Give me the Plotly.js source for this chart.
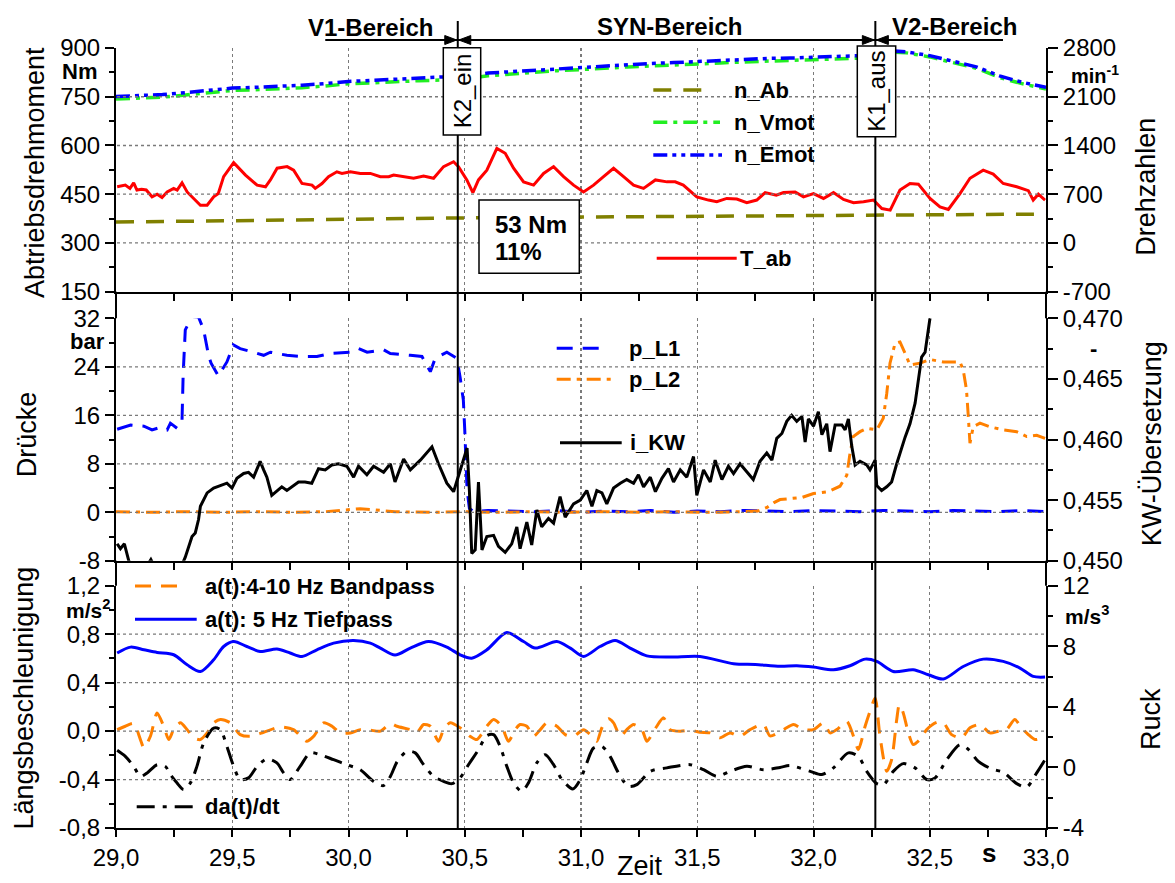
<!DOCTYPE html>
<html><head><meta charset="utf-8">
<script src="https://cdn.plot.ly/plotly-3.0.1.min.js"></script>
<style>html,body{margin:0;padding:0;background:#fff}#chart{width:1175px;height:883px}</style>
</head><body><div id="chart"></div>
<script>
// ---------------- DATA ----------------
const tTorque = [29.005,29.04,29.06,29.076,29.09,29.11,29.13,29.155,29.177,29.198,29.22,29.248,29.263,29.284,29.306,29.334,29.363,29.392,29.42,29.44,29.463,29.506,29.557,29.607,29.643,29.664,29.693,29.736,29.764,29.8,29.843,29.857,29.886,29.914,29.95,29.972,30.008,30.051,30.094,30.137,30.173,30.194,30.237,30.28,30.323,30.366,30.409,30.452,30.473,30.509,30.535,30.559,30.595,30.638,30.674,30.71,30.753,30.796,30.839,30.882,30.925,30.968,31.011,31.054,31.097,31.14,31.183,31.226,31.269,31.32,31.37,31.405,31.44,31.498,31.548,31.584,31.627,31.67,31.713,31.756,31.792,31.84,31.871,31.921,31.957,32.0,32.043,32.086,32.129,32.172,32.215,32.258,32.294,32.33,32.372,32.415,32.451,32.501,32.544,32.58,32.63,32.673,32.73,32.773,32.816,32.874,32.924,32.945,32.967,32.996];
const torqueAb = [473,478,468,485,463,465,463,442,450,440,457,468,463,485,457,437,416,416,442,452,504,547,509,478,473,494,530,535,524,483,478,468,483,504,519,514,519,514,514,504,504,509,504,499,506,499,535,550,535,494,455,494,524,591,576,530,488,478,514,535,504,478,457,478,504,530,504,478,468,494,488,488,478,442,432,427,437,435,424,432,455,447,455,457,442,452,437,455,434,424,427,432,406,401,463,483,481,437,411,403,452,499,524,512,483,473,461,432,450,432];

const tAb = [29.0,29.5,30.0,30.5,31.0,31.5,32.0,32.5,33.0];
const nAb = [300,322,345,360,372,385,395,405,415];

const tSpeed = [29.0,29.1,29.2,29.3,29.4,29.5,29.6,29.7,29.8,29.9,30.0,30.1,30.2,30.3,30.4,30.5,30.6,30.7,30.8,30.9,31.0,31.1,31.2,31.3,31.4,31.5,31.6,31.7,31.8,31.9,32.0,32.1,32.2,32.3,32.35,32.4,32.5,32.6,32.7,32.8,32.9,33.0];
const nVmot = [2066,2078,2095,2125,2160,2190,2200,2213,2230,2255,2286,2300,2318,2330,2340,2355,2400,2428,2455,2475,2490,2512,2528,2542,2553,2563,2585,2600,2612,2620,2630,2642,2655,2700,2740,2730,2672,2590,2510,2375,2285,2210];
const nEmot = [2103,2115,2132,2160,2195,2224,2236,2248,2265,2290,2319,2335,2352,2368,2382,2400,2440,2460,2485,2500,2515,2545,2562,2578,2590,2605,2625,2638,2650,2656,2665,2679,2690,2725,2755,2745,2690,2610,2530,2400,2305,2235];

const tPL1 = [29.005,29.063,29.12,29.155,29.19,29.22,29.234,29.263,29.284,29.289,29.298,29.327,29.355,29.377,29.399,29.409,29.44,29.477,29.505,29.534,29.592,29.635,29.664,29.735,29.793,29.864,29.921,30.008,30.043,30.08,30.151,30.18,30.266,30.316,30.352,30.373,30.423,30.466,30.48,30.494,30.5,30.505,30.51,30.52,30.538,30.6,30.7,30.8,30.9,31.0,31.1,31.2,31.3,31.4,31.5,31.6,31.7,31.8,31.9,32.0,32.1,32.2,32.3,32.4,32.5,32.6,32.7,32.8,32.9,33.0];
const pL1 = [13.7,14.4,14.2,13.6,14.0,13.6,14.7,13.85,15.2,22.9,30.1,32.3,32.2,30.1,25.7,24.6,22.5,24.8,27.6,27.0,26.4,25.9,26.4,25.9,25.7,25.7,26.2,26.4,27.0,26.4,26.8,26.2,25.9,25.7,23.2,25.4,26.4,25.4,22.3,18.5,13.6,9.2,3.7,0.65,0.1,0.3,0.2,0.1,0.3,0.0,0.2,0.1,0.3,0.0,0.2,0.1,0.3,0.2,0.1,0.3,0.2,0.1,0.3,0.2,0.1,0.3,0.2,0.1,0.3,0.1];

const tPL2 = [29.0,29.15,29.3,29.45,29.6,29.75,29.9,30.05,30.2,30.35,30.5,30.65,30.8,30.95,31.1,31.25,31.4,31.55,31.7,31.76,31.8,31.83,31.856,31.9,31.95,32.0,32.064,32.114,32.143,32.157,32.171,32.2,32.23,32.272,32.3,32.315,32.329,32.351,32.372,32.394,32.415,32.458,32.501,32.559,32.63,32.644,32.658,32.665,32.673,32.687,32.716,32.759,32.816,32.874,32.917,32.96,32.996];
const pL2 = [0.1,0.0,0.1,0.0,0.1,0.0,0.1,0.6,0.1,0.0,0.1,0.0,0.1,0.0,0.1,0.0,0.1,0.0,0.1,0.2,0.8,1.6,2.1,2.3,2.45,3.1,3.4,4.3,6.1,9.7,12.5,13.3,13.85,13.6,15.5,19.6,24.6,27.9,28.1,26.2,24.3,24.6,25.2,24.8,24.8,23.5,20.2,16.3,11.4,14.1,14.7,14.1,13.6,13.3,12.5,12.7,12.2];

const tKW = [29.005,29.019,29.036,29.055,29.08,29.12,29.15,29.18,29.24,29.28,29.298,29.312,29.327,29.341,29.355,29.363,29.377,29.392,29.42,29.449,29.477,29.499,29.52,29.549,29.57,29.592,29.606,29.62,29.635,29.649,29.67,29.692,29.713,29.735,29.763,29.785,29.813,29.842,29.871,29.9,29.928,29.957,29.993,30.022,30.043,30.079,30.108,30.151,30.18,30.2,30.237,30.266,30.309,30.359,30.387,30.423,30.452,30.48,30.51,30.52,30.53,30.545,30.559,30.574,30.595,30.624,30.645,30.674,30.702,30.724,30.738,30.767,30.788,30.81,30.831,30.86,30.882,30.91,30.932,30.968,30.997,31.025,31.047,31.068,31.09,31.111,31.14,31.169,31.197,31.226,31.247,31.269,31.298,31.32,31.348,31.376,31.398,31.427,31.455,31.484,31.498,31.527,31.556,31.577,31.606,31.634,31.656,31.684,31.713,31.741,31.77,31.799,31.821,31.842,31.864,31.885,31.906,31.928,31.95,31.964,31.978,32.0,32.021,32.036,32.057,32.071,32.093,32.122,32.136,32.15,32.165,32.179,32.2,32.229,32.243,32.265,32.272,32.293,32.315,32.336,32.358,32.379,32.394,32.415,32.437,32.451,32.465,32.48,32.501];
const iKW = [0.4514,0.4510,0.4514,0.4500,0.4488,0.4492,0.4501,0.4490,0.4485,0.4495,0.4503,0.4512,0.4520,0.4523,0.4534,0.4545,0.4551,0.4556,0.4560,0.4562,0.4564,0.4560,0.4568,0.4572,0.4573,0.4569,0.4576,0.4582,0.4575,0.4569,0.4554,0.4558,0.4561,0.4558,0.4562,0.4565,0.4565,0.4564,0.4576,0.4575,0.4579,0.4580,0.4578,0.4569,0.4578,0.4571,0.4578,0.4573,0.4580,0.4565,0.4584,0.4575,0.4583,0.4594,0.4580,0.4564,0.4557,0.4575,0.4593,0.4558,0.4506,0.4509,0.4565,0.4509,0.4520,0.4521,0.4512,0.4507,0.4514,0.4528,0.4510,0.4532,0.4513,0.4542,0.4528,0.4535,0.4531,0.4553,0.4536,0.4547,0.4550,0.4558,0.4545,0.4558,0.4556,0.4547,0.4560,0.4564,0.4567,0.4564,0.4571,0.4561,0.4569,0.4557,0.4568,0.4576,0.4565,0.4575,0.4569,0.4586,0.4554,0.4575,0.4565,0.4583,0.4567,0.4578,0.4572,0.4580,0.4573,0.4567,0.4582,0.4589,0.4583,0.4601,0.4605,0.4615,0.4620,0.4615,0.4619,0.4598,0.4617,0.4611,0.4623,0.4604,0.4613,0.4590,0.4612,0.4612,0.4608,0.4617,0.4594,0.4579,0.4582,0.4579,0.4575,0.4583,0.4562,0.4558,0.4561,0.4565,0.4580,0.4594,0.4602,0.4613,0.4630,0.4649,0.4668,0.4672,0.4700];

const tBand = [29.005,29.04,29.076,29.105,29.12,29.148,29.177,29.205,29.227,29.248,29.277,29.306,29.334,29.363,29.392,29.42,29.449,29.492,29.534,29.577,29.635,29.706,29.763,29.82,29.85,29.893,29.929,29.964,30.008,30.051,30.094,30.137,30.18,30.208,30.266,30.295,30.323,30.352,30.387,30.409,30.437,30.48,30.523,30.552,30.595,30.624,30.659,30.688,30.717,30.738,30.767,30.796,30.825,30.853,30.896,30.932,30.968,31.011,31.04,31.068,31.09,31.118,31.14,31.169,31.197,31.226,31.262,31.283,31.305,31.326,31.355,31.383,31.427,31.47,31.512,31.556,31.598,31.641,31.684,31.727,31.785,31.813,31.871,31.914,31.957,32.0,32.043,32.071,32.1,32.143,32.172,32.193,32.222,32.243,32.265,32.286,32.315,32.336,32.358,32.369,32.386,32.408,32.429,32.458,32.487,32.53,32.559,32.594,32.637,32.673,32.716,32.759,32.795,32.83,32.866,32.895,32.924,32.953,32.982];
const aBand = [0.012,0.04,0.062,-0.07,-0.138,-0.043,0.150,0.04,-0.07,0.012,0.068,0.012,-0.056,-0.07,-0.015,0.068,0.095,0.068,-0.029,-0.043,-0.010,0.034,0.012,-0.084,-0.043,0.068,0.04,-0.015,-0.015,0.012,0.007,0.0,0.062,0.04,0.012,-0.010,0.054,0.04,-0.084,0.012,0.068,0.027,-0.043,-0.07,0.04,0.095,0.04,-0.084,0.012,0.054,0.04,-0.043,0.012,0.068,0.04,-0.029,-0.043,0.012,-0.029,-0.084,0.027,0.101,0.068,-0.043,0.012,0.054,0.012,-0.084,-0.029,0.04,0.109,0.012,-0.001,0.007,-0.010,-0.015,-0.056,-0.015,-0.043,0.012,0.054,-0.040,0.012,0.054,0.012,0.012,0.068,-0.015,0.012,0.081,-0.043,-0.152,0.04,0.163,0.273,-0.043,-0.331,-0.235,0.095,0.218,0.150,-0.015,-0.111,-0.07,0.012,0.072,0.068,-0.029,-0.056,0.027,0.054,-0.015,-0.001,0.012,0.095,0.027,-0.029,-0.07,-0.056];

const tLow = [29.005,29.063,29.12,29.177,29.248,29.306,29.363,29.42,29.463,29.506,29.563,29.62,29.692,29.749,29.8,29.864,29.936,30.022,30.094,30.137,30.2,30.266,30.344,30.423,30.48,30.53,30.595,30.681,30.753,30.803,30.896,30.954,31.011,31.082,31.147,31.211,31.283,31.383,31.512,31.656,31.75,31.856,31.928,32.0,32.086,32.157,32.222,32.272,32.343,32.429,32.494,32.559,32.644,32.73,32.816,32.888,32.945,32.996];
const aLow = [0.644,0.693,0.671,0.649,0.630,0.547,0.492,0.589,0.698,0.739,0.698,0.657,0.677,0.644,0.616,0.671,0.726,0.747,0.726,0.685,0.628,0.685,0.739,0.693,0.630,0.602,0.671,0.813,0.739,0.685,0.739,0.685,0.616,0.698,0.747,0.685,0.621,0.611,0.616,0.556,0.550,0.535,0.539,0.528,0.506,0.539,0.594,0.575,0.492,0.506,0.465,0.430,0.533,0.594,0.575,0.520,0.451,0.446];

const tJerk = [29.005,29.04,29.076,29.105,29.134,29.177,29.212,29.234,29.262,29.291,29.32,29.348,29.377,29.42,29.449,29.477,29.506,29.534,29.57,29.607,29.649,29.692,29.721,29.749,29.792,29.835,29.878,29.936,29.993,30.05,30.108,30.151,30.18,30.21,30.251,30.287,30.323,30.366,30.409,30.445,30.48,30.516,30.559,30.595,30.624,30.652,30.681,30.71,30.745,30.774,30.81,30.846,30.882,30.918,30.965,30.997,31.025,31.054,31.09,31.125,31.161,31.204,31.24,31.298,31.369,31.47,31.527,31.584,31.641,31.713,31.785,31.856,31.9,31.986,32.036,32.086,32.15,32.193,32.229,32.272,32.301,32.343,32.386,32.437,32.487,32.523,32.573,32.63,32.666,32.709,32.766,32.816,32.874,32.917,32.96,32.996];
const jerk = [1.13,0.73,0.07,-0.59,-0.36,0.18,0.07,-0.47,-1.02,-1.46,-1.02,0.07,1.61,2.6,2.49,1.39,0.07,-0.8,-0.69,0.07,0.56,0.30,-0.36,-0.8,0.07,0.96,0.84,0.51,0.18,-0.15,-0.92,-1.2,-0.6,0.4,1.06,0.96,0.18,-0.59,-0.92,-1.07,-0.69,0.18,1.17,2.10,2.16,1.39,0.07,-1.02,-1.58,-1.02,0.30,0.84,0.18,-0.8,-1.42,-0.8,0.30,1.28,1.39,0.73,-0.36,-1.25,-1.14,-0.26,-0.03,0.18,-0.15,-0.59,-0.26,0.07,-0.15,0.0,0.12,-0.26,-0.47,-0.03,0.96,0.73,-0.26,-1.07,-1.14,-0.26,0.25,-0.03,-0.8,-0.69,0.51,1.50,1.19,0.40,-0.10,-0.32,-1.07,-1.29,-0.36,0.51];

// events / labels
const eventTimes = [30.47, 32.266];
const eventLabels = ['K2_ein', 'K1_aus'];
const regionLabels = ['V1-Bereich', 'SYN-Bereich', 'V2-Bereich'];
const regionStart = 29.9;   // left end of the V1 arrow
const regionEnd = 32.815;   // right end of the V2 arrow
const boxLines = ['53 Nm', '11%'];

// axis ranges and tick labels
const timeRange = [29, 33];
const torqueRange = [150, 900], pressureRange = [-8, 32], accelRange = [-0.8, 1.2];
const timeTicks = [29, 29.5, 30, 30.5, 31, 31.5, 32, 32.5, 33];
const timeTickText = ['29,0','29,5','30,0','30,5','31,0','31,5','32,0','32,5','33,0'];
const torqueTicks = [150, 300, 450, 600, 750, 900];
const torqueTickText = ['150','300','450','600','750','900'];
const speedTicks = [-700, 0, 700, 1400, 2100, 2800];
const speedTickText = ['-700','0','700','1400','2100','2800'];
const pressureTicks = [-8, 0, 8, 16, 24, 32];
const pressureTickText = ['-8','0','8','16','24','32'];
const ratioTicks = [0.450, 0.455, 0.460, 0.465, 0.470];
const ratioTickText = ['0,450','0,455','0,460','0,465','0,470'];
const accelTicks = [-0.8, -0.4, 0, 0.4, 0.8, 1.2];
const accelTickText = ['-0,8','-0,4','0,0','0,4','0,8','1,2'];
const jerkTicks = [-4, 0, 4, 8, 12];
const jerkTickText = ['-4','0','4','8','12'];

// ---------------- LAYOUT HELPERS ----------------
const FONT = 'Liberation Sans, Arial, Helvetica, sans-serif';
const L = 116, T = 48, W = 930, H = 780;
const X = px => (px - L) / W;
const Y = py => (T + H - py) / H;
const tPx = t => L + (t - timeRange[0]) / (timeRange[1] - timeRange[0]) * W;

const ORANGE = '#ff8000', GREEN = '#22ee22', OLIVE = '#808000', GRID = '#7a7a7a';
const DASH_AB = '18px,12px';
const DASH_VMOT = '14px,6px,4px,6px';
const DASH_EMOT = '14px,5px,4px,5px,4px,5px';
const DASH_PL1 = '16px,10px';
const DASH_BAND = '16px,10px';
const DASH_JERK = '18px,8px,4px,8px';

const traces = [
  {name:'T_ab', x:tTorque, y:torqueAb, xaxis:'x', yaxis:'y', mode:'lines', line:{color:'#ff0000', width:3}},
  {name:'n_Ab', x:tAb, y:nAb, xaxis:'x', yaxis:'y2', mode:'lines', line:{color:OLIVE, width:3.5, dash:DASH_AB}},
  {name:'n_Vmot', x:tSpeed, y:nVmot, xaxis:'x', yaxis:'y2', mode:'lines', line:{color:GREEN, width:3.5, dash:DASH_VMOT}},
  {name:'n_Emot', x:tSpeed, y:nEmot, xaxis:'x', yaxis:'y2', mode:'lines', line:{color:'#0000ff', width:3.5, dash:DASH_EMOT}},
  {name:'p_L1', x:tPL1, y:pL1, xaxis:'x2', yaxis:'y3', mode:'lines', line:{color:'#0000ff', width:3, dash:DASH_PL1}},
  {name:'p_L2', x:tPL2, y:pL2, xaxis:'x2', yaxis:'y3', mode:'lines', line:{color:ORANGE, width:3, dash:DASH_VMOT}},
  {name:'i_KW', x:tKW, y:iKW, xaxis:'x2', yaxis:'y4', mode:'lines', line:{color:'#000', width:3}},
  {name:'a(t):4-10 Hz Bandpass', x:tBand, y:aBand, xaxis:'x3', yaxis:'y5', mode:'lines', line:{color:ORANGE, width:3, dash:DASH_BAND, shape:'spline', smoothing:0.7}},
  {name:'a(t): 5 Hz Tiefpass', x:tLow, y:aLow, xaxis:'x3', yaxis:'y5', mode:'lines', line:{color:'#0000ff', width:3, shape:'spline', smoothing:0.8}},
  {name:'da(t)/dt', x:tJerk, y:jerk, xaxis:'x3', yaxis:'y6', mode:'lines', line:{color:'#000', width:3, dash:DASH_JERK, shape:'spline', smoothing:0.8}}
];

const tickFont = {family: FONT, size: 24, color: '#000'};
const gridStyle = {showgrid: true, gridcolor: GRID, gridwidth: 1.3, griddash: '3px,3px'};
function xAxis(anchor, labels) {
  return Object.assign({
    anchor: anchor, domain: [0, 1], range: timeRange, fixedrange: true,
    tickmode: 'array', tickvals: timeTicks, ticktext: timeTickText, showticklabels: labels,
    ticks: 'outside', ticklen: 7, tickwidth: 2, tickcolor: '#000', tickfont: tickFont,
    showline: true, linewidth: 2, linecolor: '#000', zeroline: false,
    minor: {tickmode: 'linear', tick0: 29, dtick: 0.25, ticks: 'outside', ticklen: 7, tickwidth: 2, tickcolor: '#000', showgrid: false}
  }, gridStyle);
}
function yAxis(opts) {
  return Object.assign({
    fixedrange: true, tickmode: 'array', ticks: 'outside', ticklen: 9, tickwidth: 2, tickcolor: '#000',
    tickfont: tickFont, showline: true, linewidth: 2, linecolor: '#000', zeroline: false, showgrid: false
  }, opts);
}
const minorY = (t0, d) => ({tickmode: 'linear', tick0: t0, dtick: d, ticks: 'outside', ticklen: 5, tickwidth: 2, tickcolor: '#000', showgrid: false});

const domTop = [Y(291.7), 1];
const domMid = [Y(560.8), Y(318.3)];
const domBot = [0, Y(585.7)];

const layout = {
  width: 1175, height: 883,
  margin: {l: L, r: 1175 - L - W, t: T, b: 883 - T - H, pad: 0},
  paper_bgcolor: '#fff', plot_bgcolor: '#fff',
  showlegend: false,
  font: {family: FONT, color: '#000'},
  xaxis: xAxis('y', false),
  xaxis2: Object.assign(xAxis('y3', false), {matches: 'x'}),
  xaxis3: Object.assign(xAxis('y5', true), {matches: 'x'}),
  yaxis: yAxis({domain: domTop, anchor: 'x', range: torqueRange, tickvals: torqueTicks, ticktext: torqueTickText, minor: minorY(0, 75)}),
  yaxis2: yAxis({overlaying: 'y', side: 'right', anchor: 'x', range: [-700, 2800], tickvals: speedTicks, ticktext: speedTickText, ticklen: 10, minor: minorY(0, 350)}),
  yaxis3: yAxis({domain: domMid, anchor: 'x2', range: pressureRange, tickvals: pressureTicks, ticktext: pressureTickText, minor: minorY(0, 4)}),
  yaxis4: yAxis({overlaying: 'y3', side: 'right', anchor: 'x2', range: [0.450, 0.470], tickvals: ratioTicks, ticktext: ratioTickText, ticklen: 10, minor: minorY(0.45, 0.0025)}),
  yaxis5: yAxis({domain: domBot, anchor: 'x3', range: accelRange, tickvals: accelTicks, ticktext: accelTickText, minor: minorY(0, 0.2)}),
  yaxis6: yAxis({overlaying: 'y5', side: 'right', anchor: 'x3', range: [-4, 12], tickvals: jerkTicks, ticktext: jerkTickText, ticklen: 10, minor: minorY(0, 2)}),
  shapes: [],
  annotations: []
};

const S = layout.shapes, A = layout.annotations;

// horizontal dotted grid at the inner ticks of each left axis (paper coordinates from domain + range)
[[domTop, torqueRange, torqueTicks], [domMid, pressureRange, pressureTicks], [domBot, accelRange, accelTicks]].forEach(([dom, rng, vals]) => {
  vals.slice(1, -1).forEach(v => {
    const yy = dom[0] + (v - rng[0]) / (rng[1] - rng[0]) * (dom[1] - dom[0]);
    S.push({type:'line', xref:'paper', yref:'paper', x0:X(117), x1:X(1045), y0:yy, y1:yy, line:{color:GRID, width:1.3, dash:'3px,3px'}});
  });
});

// frame extensions between panels
[[318.3, 291.7], [585.7, 560.8]].forEach(([a, b]) => {
  S.push({type:'line', xref:'paper', yref:'paper', x0:0, x1:0, y0:Y(a), y1:Y(b), line:{color:'#000', width:2}});
  S.push({type:'line', xref:'paper', yref:'paper', x0:1, x1:1, y0:Y(a), y1:Y(b), line:{color:'#000', width:2}});
});
// event lines
eventTimes.forEach(t => S.push({type:'line', xref:'x', yref:'paper', x0:t, x1:t, y0:0, y1:Y(21), line:{color:'#000', width:2}}));
// event label boxes
const evBoxes = [[443.3, 47.7, 480.7, 135], [857.3, 46, 895.7, 136.7]];
evBoxes.forEach((b, i) => {
  S.push({type:'rect', xref:'paper', yref:'paper', x0:X(b[0]), x1:X(b[2]), y0:Y(b[3]), y1:Y(b[1]), fillcolor:'#fff', line:{color:'#000', width:1.5}});
  A.push({xref:'paper', yref:'paper', x:X((b[0]+b[2])/2), y:Y((b[1]+b[3])/2), text:eventLabels[i], textangle:-90, showarrow:false,
    xanchor:'center', yanchor:'middle', font:{family:FONT, size:24, color:'#000'}});
});
// 53 Nm box
S.push({type:'rect', xref:'paper', yref:'paper', x0:X(479), x1:X(579.3), y0:Y(273.3), y1:Y(200), fillcolor:'#fff', line:{color:'#000', width:1.5}});
A.push({xref:'paper', yref:'paper', x:X(493), y:Y(225), text:'<b>'+boxLines[0]+'</b>', showarrow:false, xanchor:'left', yanchor:'middle', font:{family:FONT, size:24}});
A.push({xref:'paper', yref:'paper', x:X(493), y:Y(252), text:'<b>'+boxLines[1]+'</b>', showarrow:false, xanchor:'left', yanchor:'middle', font:{family:FONT, size:24}});

// region labels
const regionPos = [[370.8, 27], [669.7, 26], [954.2, 26]];
regionLabels.forEach((r, i) => A.push({xref:'paper', yref:'paper', x:X(regionPos[i][0]), y:Y(regionPos[i][1]), text:'<b>'+r+'</b>',
  showarrow:false, xanchor:'center', yanchor:'middle', font:{family:FONT, size:24}}));

// region arrows: one line + triangular heads at the event lines
const arrowPy = 40, headL = 12, headW = 4.5;
const ends = [tPx(regionStart), tPx(eventTimes[0]), tPx(eventTimes[1]), tPx(regionEnd)];
S.push({type:'line', xref:'paper', yref:'paper', x0:X(ends[0]), x1:X(ends[3]), y0:Y(arrowPy), y1:Y(arrowPy), line:{color:'#000', width:2}});
function head(tipPx, dir) {
  const bx = tipPx - dir * headL;
  return 'M' + X(tipPx) + ',' + Y(arrowPy) + ' L' + X(bx) + ',' + Y(arrowPy - headW) + ' L' + X(bx) + ',' + Y(arrowPy + headW) + ' Z';
}
[[ends[1] - 1, 1], [ends[1] + 1, -1], [ends[2] - 1, 1], [ends[2] + 1, -1]].forEach(([p, d]) =>
  S.push({type:'path', xref:'paper', yref:'paper', path:head(p, d), fillcolor:'#000', line:{color:'#000', width:1}}));

// custom legends (samples + labels)
const legendItems = [
  {trace:1, x0:653.3, x1:712, y:90, tx:731.7},
  {trace:2, x0:653.3, x1:720, y:122.3, tx:731.7},
  {trace:3, x0:653.3, x1:722, y:155, tx:731.7},
  {trace:0, x0:656.7, x1:736.7, y:258.3, tx:738.3},
  {trace:4, x0:556.7, x1:606.7, y:348.3, tx:626.7},
  {trace:5, x0:556.7, x1:615, y:379.3, tx:626.7},
  {trace:6, x0:560, x1:621.7, y:442.7, tx:628.3},
  {trace:7, x0:135, x1:182, y:586, tx:203.3},
  {trace:8, x0:135, x1:196.7, y:619.3, tx:203.3},
  {trace:9, x0:136.7, x1:195, y:806.7, tx:203.3}
];
legendItems.forEach(it => {
  const tr = traces[it.trace];
  S.push({type:'line', xref:'paper', yref:'paper', x0:X(it.x0), x1:X(it.x1), y0:Y(it.y), y1:Y(it.y),
    line:{color:tr.line.color, width:tr.line.width, dash:tr.line.dash || 'solid'}});
  A.push({xref:'paper', yref:'paper', x:X(it.tx), y:Y(it.y), text:'<b>'+tr.name+'</b>', showarrow:false,
    xanchor:'left', yanchor:'middle', font:{family:FONT, size:22, color:'#000'}});
});

// unit labels
const units = [
  {t:'Nm', x:99.3, y:71.7, xa:'right', s:22},
  {t:'min<sup>-1</sup>', x:1069, y:75, xa:'left', s:20},
  {t:'bar', x:106.7, y:341.7, xa:'right', s:22},
  {t:'-', x:1093.7, y:348.3, xa:'center', s:22},
  {t:'m/s<sup>2</sup>', x:111.7, y:609, xa:'right', s:21},
  {t:'m/s<sup>3</sup>', x:1063.3, y:615, xa:'left', s:21},
];
units.forEach(u => A.push({xref:'paper', yref:'paper', x:X(u.x), y:Y(u.y), text:'<b>'+u.t+'</b>', showarrow:false,
  xanchor:u.xa, yanchor:'middle', font:{family:FONT, size:u.s, color:'#000'}}));
A.push({xref:'paper', yref:'paper', x:X(988.7), y:Y(853), text:'<b>s</b>', showarrow:false, xanchor:'center', yanchor:'middle', font:{family:FONT, size:26}});

// axis titles
const titles = [
  {t:'Abtriebsdrehmoment', x:35, y:173, a:-90},
  {t:'Drehzahlen', x:1146, y:186.7, a:-90},
  {t:'Drücke', x:27, y:434.2, a:-90},
  {t:'KW-Übersetzung', x:1152, y:444.2, a:-90},
  {t:'Längsbeschleunigung', x:23, y:698.5, a:-90},
  {t:'Ruck', x:1151, y:719, a:-90},
  {t:'Zeit', x:639.5, y:866, a:0}
];
titles.forEach(tt => A.push({xref:'paper', yref:'paper', x:X(tt.x), y:Y(tt.y), text:tt.t, textangle:tt.a, showarrow:false,
  xanchor:'center', yanchor:'middle', font:{family:FONT, size:27, color:'#000'}}));

Plotly.newPlot('chart', traces, layout, {displayModeBar: false, staticPlot: true});
</script></body></html>
